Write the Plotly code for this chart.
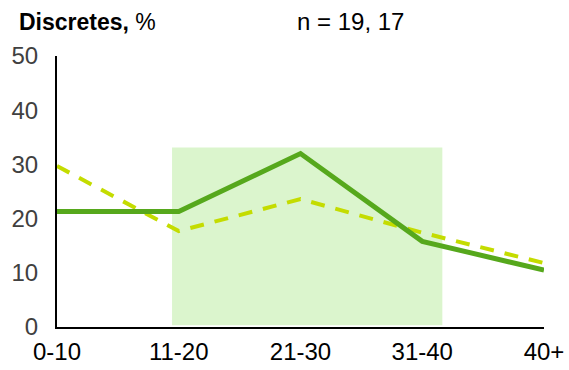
import plotly.graph_objects as go

# Age bands and share of respondents (%) for the two samples
categories = ["0-10", "11-20", "21-30", "31-40", "40+"]
series_a = [21.3, 21.3, 32.0, 15.8, 10.5]   # solid line
series_b = [29.7, 17.7, 23.6, 17.4, 11.8]   # dashed line
highlight_span = (0.945, 3.165)             # shaded band, in category units
highlight_top = 33.1

x = list(range(len(categories)))

fig = go.Figure()

fig.add_shape(
    type="rect", xref="x", yref="y",
    x0=highlight_span[0], x1=highlight_span[1], y0=0.3, y1=highlight_top,
    fillcolor="#DBF5CD", line=dict(width=0), layer="below",
)

fig.add_trace(go.Scatter(
    x=x, y=series_b, mode="lines",
    line=dict(color="#C4DC00", width=4, dash="14px,11px"),
    hoverinfo="skip",
))
fig.add_trace(go.Scatter(
    x=x, y=series_a, mode="lines",
    line=dict(color="#56A81C", width=5),
    hoverinfo="skip",
))

fig.update_layout(
    width=569, height=370,
    margin=dict(l=57, r=25, t=56, b=43),
    paper_bgcolor="white", plot_bgcolor="white",
    showlegend=False,
    font=dict(family="Liberation Sans, Arial, sans-serif", size=24, color="#404040"),
    xaxis=dict(
        range=[0, 4], tickvals=x, ticktext=categories,
        showgrid=False, zeroline=False, automargin=False,
        showline=True, linecolor="black", linewidth=2,
        ticks="", tickfont=dict(color="black", size=24),
        ticklabelstandoff=2,
    ),
    yaxis=dict(
        range=[0, 50], tickvals=[0, 10, 20, 30, 40, 50],
        showgrid=False, zeroline=False, automargin=False,
        showline=True, linecolor="black", linewidth=2,
        ticks="", tickfont=dict(color="#404040", size=24),
        ticklabelstandoff=12,
    ),
    annotations=[
        dict(text="<b>Discretes,</b> %", xref="paper", yref="paper",
             x=-0.082, y=1.0, xanchor="left", yanchor="bottom", yshift=19,
             showarrow=False, font=dict(size=23, color="black")),
        dict(text="n = 19, 17", xref="paper", yref="paper",
             x=0.488, y=1.0, xanchor="left", yanchor="bottom", yshift=19,
             showarrow=False, font=dict(size=24, color="black")),
    ],
)

fig.write_html("out.html")
